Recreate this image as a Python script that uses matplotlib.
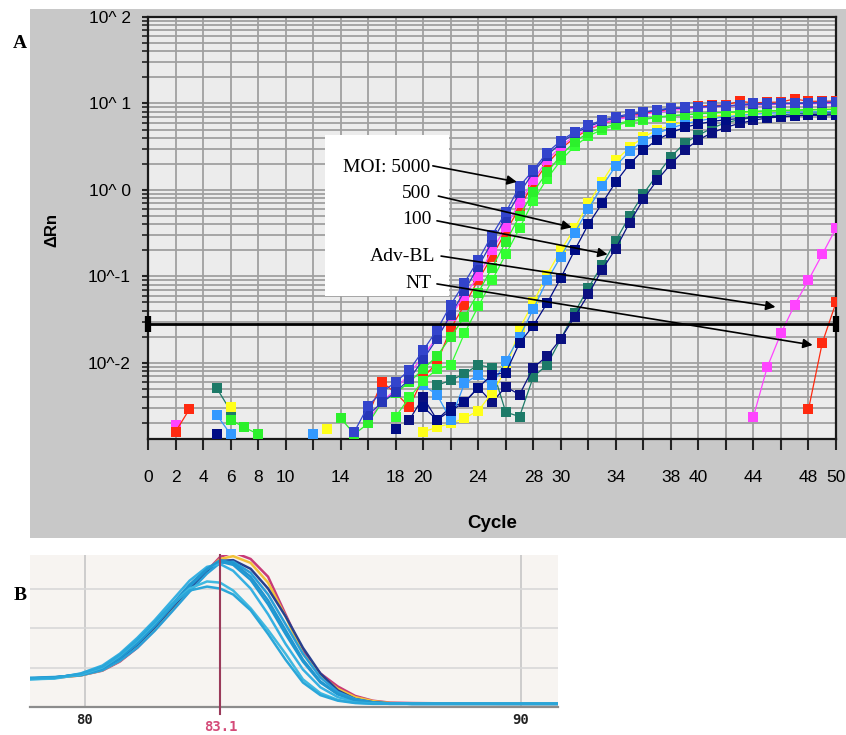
import numpy as np
import matplotlib.pyplot as plt
from matplotlib.patches import Rectangle
from matplotlib.ticker import LogLocator, NullFormatter, FixedLocator, FixedFormatter

plt.rcParams['font.family'] = ['Liberation Sans', 'DejaVu Sans']

N = np.nan
cycles = np.arange(1, 51)

# ---- amplification plot (delta Rn per cycle) ----
moi5000_blue = [N] * 14 + [0.0016, 0.0032, 0.0046, 0.006, 0.0083, 0.014, 0.024, 0.047, 0.085, 0.155,
                           0.30, 0.55, 1.1, 1.7, 2.7, 3.7, 4.7, 5.6, 6.4, 7.0,
                           7.6, 8.0, 8.4, 8.9, 9.0, 9.1, 9.2, 9.3, 9.6, 10.0,
                           10.0, 10.0, 10.1, 10.2, 10.3, 10.4]
moi5000_blue2 = [N] * 15 + [0.0025, 0.0035, 0.0046, 0.0065, 0.011, 0.019, 0.036, 0.068, 0.13, 0.25,
                            0.48, 0.92, 1.6, 2.5, 3.5, 4.5, 5.4, 6.2, 6.8, 7.4,
                            7.9, 8.3, 8.7, 8.9, 9.1, 9.3, 9.4, 9.6, 9.8, 9.9,
                            10.0, 10.0, 10.1, 10.2, 10.3]
moi5000_magenta = [N] * 15 + [0.0022, 0.0035, 0.005, 0.0075, 0.012, 0.02, 0.035, 0.06, 0.1, 0.2,
                              0.37, 0.71, 1.3, 2.2, 3.2, 4.2, 5.1, 5.9, 6.5, 7.0,
                              7.5, 7.9, 8.3, 8.6, 8.9, 9.1, 9.3, 9.5, 9.6, 9.7,
                              9.8, 9.9, 9.9, 10.0, 10.0]
moi5000_red = [N] * 15 + [0.0025, 0.006, 0.0045, 0.0031, 0.0068, 0.01, 0.025, 0.047, 0.091, 0.17,
                          0.33, 0.62, 1.2, 2.0, 3.0, 4.0, 5.0, 5.8, 6.5, 7.1,
                          7.7, 8.1, 8.6, 8.9, 9.3, 9.5, 9.6, 10.6, 10.2, 10.3,
                          10.4, 11.3, 10.6, 10.6, 10.7]
moi500_green = ([N] * 5 + [0.0022, 0.0018, 0.0015] + [N] * 5 +
                [0.0023, 0.0015, 0.002, 0.0035, 0.0045, 0.006, 0.0085, 0.012, 0.02, 0.034, 0.065,
                 0.126, 0.25, 0.5, 0.95, 1.6, 2.5, 3.6, 4.6, 5.2, 5.8,
                 6.3, 6.6, 7.0, 7.2, 7.4, 7.6, 7.8, 7.9, 8.0, 8.1,
                 8.2, 8.3, 8.4, 8.5, 8.5, 8.6])
moi500_green2 = [N] * 17 + [0.0024, 0.004, 0.0062, 0.0085, 0.0094, 0.022, 0.045, 0.09,
                            0.18, 0.36, 0.75, 1.35, 2.2, 3.2, 4.2, 5.0, 5.6, 6.1,
                            6.5, 6.9, 7.2, 7.4, 7.6, 7.8, 7.9, 8.0, 8.1, 8.2,
                            8.3, 8.3, 8.4, 8.5, 8.5]
moi100_yellow = ([N] * 5 + [0.0031] + [N] * 6 + [0.0017] + [N] * 6 +
                 [0.0016, 0.0018, 0.002, 0.0023, 0.0028, 0.0045,
                  0.0083, 0.025, 0.05, 0.105, 0.2, 0.36, 0.7, 1.24, 2.2, 3.1,
                  4.1, 4.9, 5.6, 6.2, 6.7, 7.1, 7.4, 7.7, 7.9, 8.1,
                  8.3, 8.4, 8.5, 8.6, 8.7])
moi100_sky = ([N] * 4 + [0.0025, 0.0015] + [N] * 5 + [0.0015] + [N] * 7 +
              [0.0055, 0.0043, 0.0022, 0.0058, 0.0073, 0.0055,
               0.0105, 0.02, 0.042, 0.09, 0.17, 0.32, 0.6, 1.1, 1.9, 2.8,
               3.7, 4.5, 5.2, 5.8, 6.3, 6.7, 7.0, 7.3, 7.5, 7.7,
               7.8, 7.9, 8.0, 8.0, 8.1])
moi100_navy = ([N] * 4 + [0.0015] + [N] * 10 + [0.0025, N, 0.0017, N] +
               [0.0031, 0.0022, 0.0028, 0.0035, 0.0052, 0.0073,
                0.0077, 0.017, 0.027, 0.049, 0.096, 0.2, 0.4, 0.7, 1.24, 2.0,
                2.9, 3.8, 4.6, 5.3, 5.8, 6.2, 6.5, 6.7, 6.9, 7.0,
                7.1, 7.2, 7.3, 7.3, 7.4])
advbl_teal = ([N] * 4 + [0.0051, 0.0028] + [N] * 14 +
              [0.0055, 0.0063, 0.0075, 0.0095, 0.0088,
               0.0027, 0.0024, 0.0069, 0.0095, 0.019, 0.038, 0.074, 0.135, 0.26, 0.5,
               0.9, 1.5, 2.4, 3.5, 4.3, 5.2, 6.0, 6.5, 6.9, 7.2,
               7.4, 7.6, 7.7, 7.8, 7.9])
advbl_navy = [N] * 18 + [0.0022, 0.004, 0.0022, 0.0031, 0.0035, 0.0052, 0.0035,
                         0.0053, 0.0043, 0.0088, 0.012, 0.019, 0.034, 0.062, 0.12, 0.21, 0.42,
                         0.78, 1.3, 2.0, 2.9, 3.8, 4.6, 5.3, 5.9, 6.4, 6.8,
                         7.0, 7.2, 7.4, 7.5, 7.6]
nt_magenta = [N, 0.0019] + [N] * 41 + [0.0024, 0.0089, 0.022, 0.047, 0.091, 0.18, 0.36]
nt_red = [N, 0.0016, 0.0029] + [N] * 44 + [0.0029, 0.017, 0.05]

series = [
    (advbl_teal, '#1d7a68'),
    (advbl_navy, '#0a1080'),
    (moi100_yellow, '#ffff1a'),
    (moi100_sky, '#3399ff'),
    (moi100_navy, '#000d85'),
    (nt_magenta, '#ff44ff'),
    (nt_red, '#ff2a10'),
    (moi5000_red, '#ff2a10'),
    (moi5000_magenta, '#ff44ff'),
    (moi500_green2, '#33ff33'),
    (moi500_green, '#2cf02c'),
    (moi5000_blue2, '#2636b8'),
    (moi5000_blue, '#3344cc'),
]

threshold = 0.028

x_ticks = list(range(0, 51, 2))
x_labels = [0, 2, 4, 6, 8, 10, 14, 18, 20, 24, 28, 30, 34, 38, 40, 44, 48, 50]
y_ticks = [0.01, 0.1, 1, 10, 100]
y_labels = ['10^-2', '10^-1', '10^ 0', '10^ 1', '10^ 2']

# curve labels: (text, text position, arrow tail, arrow tip) in (cycle, delta Rn)
callouts = [
    ('MOI: 5000', (20.5, 1.8), (20.7, 1.9), (26.8, 1.24)),
    ('500', (20.6, 0.9), (21.1, 0.85), (30.8, 0.37)),
    ('100', (20.6, 0.45), (21.0, 0.44), (33.4, 0.18)),
    ('Adv-BL', (20.9, 0.168), (21.3, 0.172), (45.6, 0.0444)),
    ('NT', (20.6, 0.084), (21.0, 0.082), (48.3, 0.0161)),
]

# ---- melt curve (derivative) ----
melt_temp = [78.7, 79.3, 79.9, 80.4, 80.8, 81.2, 81.6, 82.0, 82.4, 82.8, 83.1, 83.4, 83.8,
             84.2, 84.6, 85.0, 85.4, 85.8, 86.2, 86.6, 87.0, 87.5, 88.5, 89.5, 90.85]
melt_magenta = [0.72, 0.74, 0.8, 0.92, 1.15, 1.5, 1.95, 2.45, 2.95, 3.45, 3.8, 3.92, 3.75,
                3.3, 2.35, 1.4, 0.85, 0.52, 0.28, 0.16, 0.11, 0.1, 0.09, 0.08, 0.08]
melt_yellow = [0.72, 0.74, 0.8, 0.93, 1.17, 1.52, 1.97, 2.47, 2.97, 3.45, 3.75, 3.82, 3.65,
               3.15, 2.3, 1.35, 0.8, 0.46, 0.25, 0.15, 0.1, 0.09, 0.08, 0.08, 0.08]
melt_navy = [0.72, 0.75, 0.82, 0.97, 1.22, 1.58, 2.02, 2.52, 3.0, 3.45, 3.7, 3.72, 3.5,
             3.0, 2.3, 1.5, 0.85, 0.42, 0.2, 0.12, 0.09, 0.08, 0.08, 0.08, 0.08]
melt_cyan_a = [0.72, 0.75, 0.82, 0.98, 1.24, 1.6, 2.05, 2.55, 3.05, 3.48, 3.68, 3.6, 3.22,
               2.6, 1.85, 1.15, 0.62, 0.32, 0.17, 0.11, 0.09, 0.08, 0.08, 0.08, 0.08]
melt_cyan_b = [0.7, 0.73, 0.85, 1.05, 1.35, 1.75, 2.2, 2.7, 3.2, 3.55, 3.62, 3.45, 3.0,
               2.35, 1.6, 0.95, 0.5, 0.25, 0.14, 0.1, 0.08, 0.08, 0.08, 0.08, 0.08]
melt_cyan_c = [0.74, 0.76, 0.8, 0.93, 1.17, 1.5, 1.93, 2.42, 2.92, 3.38, 3.65, 3.68, 3.4,
               2.85, 2.1, 1.35, 0.75, 0.38, 0.2, 0.12, 0.09, 0.08, 0.08, 0.08, 0.08]
melt_cyan_d = [0.7, 0.72, 0.82, 1.0, 1.3, 1.68, 2.12, 2.6, 3.0, 3.18, 3.15, 2.95, 2.5,
               1.95, 1.35, 0.7, 0.35, 0.18, 0.11, 0.09, 0.08, 0.08, 0.08, 0.08, 0.08]
melt_cyan_e = [0.72, 0.74, 0.84, 1.02, 1.32, 1.7, 2.15, 2.6, 2.95, 3.05, 3.0, 2.85, 2.45,
               1.85, 1.2, 0.62, 0.3, 0.16, 0.1, 0.08, 0.08, 0.08, 0.08, 0.08, 0.08]
melt_cyan_f = [0.71, 0.74, 0.83, 1.0, 1.28, 1.65, 2.1, 2.6, 3.1, 3.5, 3.72, 3.65, 3.3,
               2.7, 1.95, 1.2, 0.65, 0.33, 0.17, 0.11, 0.09, 0.08, 0.08, 0.08, 0.08]

melt_series = [
    (melt_magenta, '#c83a78'),
    (melt_yellow, '#f2c23a'),
    (melt_navy, '#27408f'),
    (melt_cyan_c, '#2a9fd8'),
    (melt_cyan_a, '#1f98d4'),
    (melt_cyan_b, '#36b0e2'),
    (melt_cyan_f, '#2196cf'),
    (melt_cyan_d, '#3fb8e0'),
    (melt_cyan_e, '#2aa6d9'),
]
melt_peak = 83.1

W, H = 846, 735
fig = plt.figure(figsize=(W / 100, H / 100), dpi=100)

# gray panel behind the amplification plot
fig.add_artist(Rectangle((30 / W, 1 - 538 / H), 816 / W, 529 / H, transform=fig.transFigure,
                         facecolor='#c8c8c8', edgecolor='none', zorder=0))

ax = fig.add_axes([148 / W, 1 - 439 / H, 688 / W, 422 / H])
ax.set_facecolor('#ececec')
ax.set_yscale('log')
ax.set_xlim(0, 50)
ax.set_ylim(0.00132, 100)

ax.xaxis.set_major_locator(FixedLocator(x_ticks))
ax.xaxis.set_major_formatter(FixedFormatter([str(t) if t in x_labels else '' for t in x_ticks]))
ax.yaxis.set_major_locator(FixedLocator(y_ticks))
ax.yaxis.set_major_formatter(FixedFormatter(y_labels))
ax.yaxis.set_minor_locator(LogLocator(base=10, subs=range(2, 10)))
ax.yaxis.set_minor_formatter(NullFormatter())
ax.tick_params(axis='x', direction='out', length=8, width=1.5, pad=14, labelsize=12.5, color='#222222')
ax.tick_params(axis='y', which='major', direction='out', length=4.5, width=1.5, pad=8,
               labelsize=12.5, color='#222222')
ax.tick_params(axis='y', which='minor', direction='out', length=4, width=1.2, color='#222222')
ax.grid(True, which='major', color='#a0a0a0', lw=1.3)
ax.grid(True, which='minor', axis='y', color='#a0a0a0', lw=1.3)
ax.set_axisbelow(True)
for s in ax.spines.values():
    s.set_color('#1a1a1a')
    s.set_linewidth(1.6)

# white box behind the curve labels
ax.add_patch(Rectangle((0.257, 0.339), 0.18, 0.381, transform=ax.transAxes,
                       facecolor='white', edgecolor='none', zorder=2))

for vals, col in series:
    ax.plot(cycles, vals, color=col, lw=0.9, marker='s', ms=7, mec=col, mew=0, zorder=3)

ax.plot([0, 50], [threshold, threshold], color='black', lw=2, zorder=4,
        marker='|', ms=11, mew=4.5, clip_on=False)

for text, tpos, tail, tip in callouts:
    ax.text(tpos[0], tpos[1], text, ha='right', va='center', fontsize=14,
            family='Liberation Serif', zorder=6)
    ax.annotate('', xy=tip, xytext=tail,
                arrowprops=dict(arrowstyle='-|>', color='black', lw=1.2,
                                mutation_scale=14, shrinkA=0, shrinkB=0), zorder=6)

fig.text(492 / W, 1 - 523 / H, 'Cycle', ha='center', va='center', fontsize=13.5, weight='bold')
fig.text(52 / W, 1 - 230 / H, '\u0394Rn', ha='center', va='center', fontsize=12,
         weight='bold', rotation=90)
fig.text(20 / W, 1 - 44 / H, 'A', ha='center', va='center', fontsize=14, weight='bold',
         family='Liberation Serif')

# ---- melt curve panel ----
axb = fig.add_axes([30 / W, 1 - 707 / H, 528 / W, 152 / H])
axb.set_facecolor('#f7f4f1')
axb.set_xlim(78.74, 90.85)
axb.set_ylim(0, 3.85)
for side in ('top', 'right', 'left'):
    axb.spines[side].set_visible(False)
axb.spines['bottom'].set_color('#8c8c8c')
axb.spines['bottom'].set_linewidth(1.6)
axb.set_yticks([1, 2, 3])
axb.set_yticklabels([])
axb.set_xticks([80, 90])
axb.set_xticklabels(['80', '90'], family='DejaVu Sans Mono', weight='bold', fontsize=10)
axb.tick_params(length=0, pad=4, colors='#222222')
axb.grid(True, axis='y', color='#d8d8d8', lw=1.2)
axb.grid(True, axis='x', color='#c6c6c6', lw=1.2)
axb.set_axisbelow(True)

for vals, col in melt_series:
    axb.plot(melt_temp, vals, color=col, lw=1.8, zorder=3)

axb.plot([melt_peak, melt_peak], [-0.18, 3.85], color='#9a3a5a', lw=1.5, zorder=5, clip_on=False)
fig.text(221 / W, 0.002, f'{melt_peak:.1f}', ha='center', va='bottom', color='#d44a78',
         fontsize=10, weight='bold', family='DejaVu Sans Mono')
fig.text(20 / W, 1 - 596 / H, 'B', ha='center', va='center', fontsize=14, weight='bold',
         family='Liberation Serif')

fig.savefig('out.png', dpi=100)
